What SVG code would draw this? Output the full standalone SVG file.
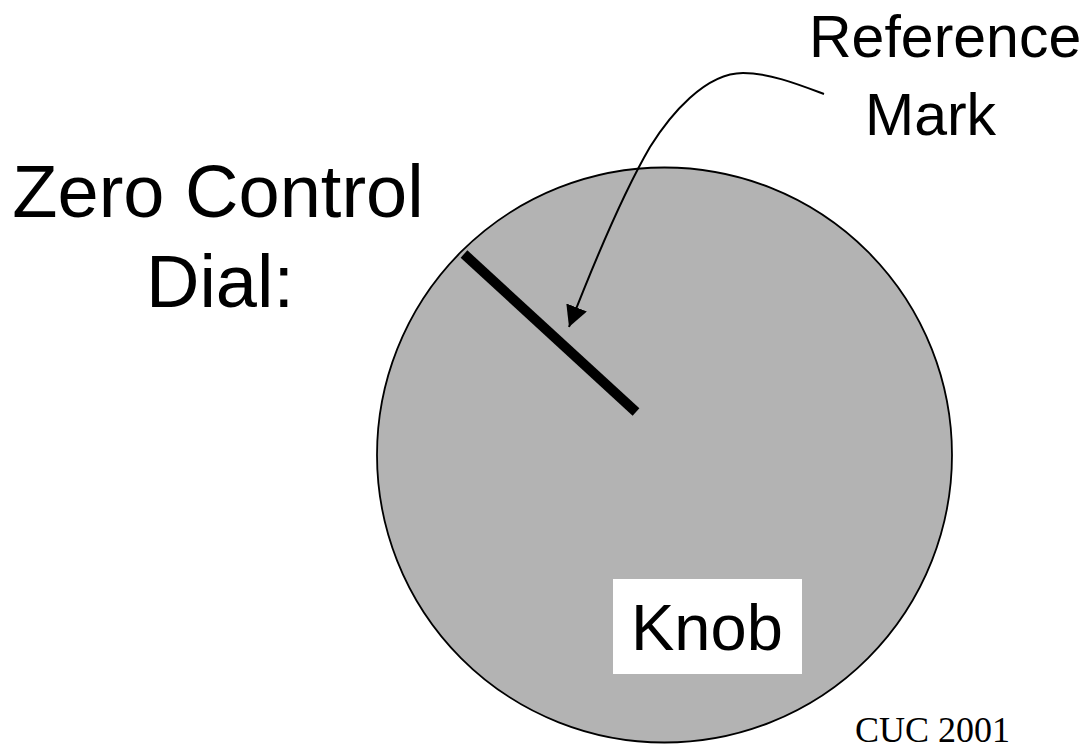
<svg xmlns="http://www.w3.org/2000/svg" width="1089" height="744" viewBox="0 0 1089 744">
  <style>
    .lbl { font-family: "Liberation Sans", Arial, sans-serif; fill: #000; }
    .serif { font-family: "Liberation Serif", "Times New Roman", serif; fill: #000; }
  </style>
  <defs>
    <marker id="arrow" markerUnits="userSpaceOnUse" markerWidth="22" markerHeight="22" refX="21" refY="11" orient="auto" viewBox="0 0 22 22">
      <path d="M0,0 L21,11 L0,22 Z" fill="#000"/>
    </marker>
  </defs>
  <rect width="1089" height="744" fill="#fff"/>
  <g id="knob">
    <circle cx="664.5" cy="455" r="287.5" fill="#b3b3b3" stroke="#000" stroke-width="1.8"/>
    <line x1="464" y1="254" x2="636" y2="412" stroke="#000" stroke-width="10"/>
  </g>
  <g id="knob-label">
    <rect x="613" y="579" width="189" height="95" fill="#fff"/>
    <text class="lbl" x="631" y="650" font-size="65">Knob</text>
  </g>
  <g id="zero-control-label">
    <text class="lbl" x="218" y="217" font-size="74" text-anchor="middle">Zero Control</text>
    <text class="lbl" x="220" y="307" font-size="74" text-anchor="middle">Dial:</text>
  </g>
  <g id="reference-mark-label">
    <text class="lbl" x="809" y="57" font-size="59">Reference</text>
    <text class="lbl" x="865" y="135" font-size="59">Mark</text>
  </g>
  <g id="connectors">
    <path d="M824,94 C800,85 770,73 743,73 C705,73 670,115 650,147 C625,190 595,260 569,327" fill="none" stroke="#000" stroke-width="2" marker-end="url(#arrow)"/>
  </g>
  <g id="credit">
    <text class="serif" x="855" y="742" font-size="36">CUC 2001</text>
  </g>
</svg>
